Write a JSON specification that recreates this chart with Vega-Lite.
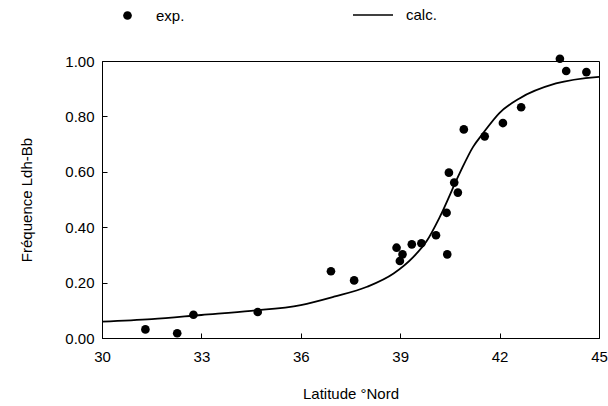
{
  "$schema": "https://vega.github.io/schema/vega-lite/v6.json",
  "width": 497,
  "height": 277,
  "autosize": {"type": "none"},
  "padding": {"left": 102, "top": 61, "right": 9, "bottom": 68},
  "background": "white",
  "config": {
    "font": "Liberation Sans",
    "view": {"stroke": "black", "strokeWidth": 1},
    "axis": {
      "domainColor": "black",
      "tickColor": "black",
      "labelColor": "black",
      "titleColor": "black",
      "labelFont": "Liberation Sans",
      "titleFont": "Liberation Sans",
      "labelFontSize": 15,
      "titleFontSize": 15,
      "titleFontWeight": "normal",
      "grid": false,
      "tickSize": -5,
      "labelFlush": false
    }
  },
  "datasets": {
    "exp": [
      {"lat": 31.31, "freq": 0.031, "type": "exp."},
      {"lat": 32.27, "freq": 0.017, "type": "exp."},
      {"lat": 32.76, "freq": 0.084, "type": "exp."},
      {"lat": 34.70, "freq": 0.094, "type": "exp."},
      {"lat": 36.91, "freq": 0.241, "type": "exp."},
      {"lat": 37.61, "freq": 0.208, "type": "exp."},
      {"lat": 38.89, "freq": 0.326, "type": "exp."},
      {"lat": 39.07, "freq": 0.302, "type": "exp."},
      {"lat": 38.99, "freq": 0.278, "type": "exp."},
      {"lat": 39.35, "freq": 0.338, "type": "exp."},
      {"lat": 39.64, "freq": 0.342, "type": "exp."},
      {"lat": 40.08, "freq": 0.371, "type": "exp."},
      {"lat": 40.40, "freq": 0.452, "type": "exp."},
      {"lat": 40.42, "freq": 0.302, "type": "exp."},
      {"lat": 40.47, "freq": 0.597, "type": "exp."},
      {"lat": 40.63, "freq": 0.561, "type": "exp."},
      {"lat": 40.74, "freq": 0.525, "type": "exp."},
      {"lat": 40.92, "freq": 0.753, "type": "exp."},
      {"lat": 41.55, "freq": 0.728, "type": "exp."},
      {"lat": 42.10, "freq": 0.776, "type": "exp."},
      {"lat": 42.65, "freq": 0.833, "type": "exp."},
      {"lat": 43.82, "freq": 1.008, "type": "exp."},
      {"lat": 44.01, "freq": 0.964, "type": "exp."},
      {"lat": 44.62, "freq": 0.960, "type": "exp."}
    ],
    "calc": [
      {"lat": 30.0, "freq": 0.059, "kind": "calc."},
      {"lat": 31.5, "freq": 0.068, "kind": "calc."},
      {"lat": 33.0, "freq": 0.083, "kind": "calc."},
      {"lat": 34.5, "freq": 0.098, "kind": "calc."},
      {"lat": 36.0, "freq": 0.119, "kind": "calc."},
      {"lat": 37.0, "freq": 0.149, "kind": "calc."},
      {"lat": 38.0, "freq": 0.185, "kind": "calc."},
      {"lat": 38.8, "freq": 0.233, "kind": "calc."},
      {"lat": 39.4, "freq": 0.293, "kind": "calc."},
      {"lat": 39.8, "freq": 0.350, "kind": "calc."},
      {"lat": 40.2, "freq": 0.438, "kind": "calc."},
      {"lat": 40.8, "freq": 0.596, "kind": "calc."},
      {"lat": 41.2, "freq": 0.690, "kind": "calc."},
      {"lat": 41.5, "freq": 0.739, "kind": "calc."},
      {"lat": 42.0, "freq": 0.813, "kind": "calc."},
      {"lat": 42.6, "freq": 0.865, "kind": "calc."},
      {"lat": 43.7, "freq": 0.919, "kind": "calc."},
      {"lat": 45.0, "freq": 0.943, "kind": "calc."}
    ]
  },
  "layer": [
    {
      "data": {"name": "calc"},
      "mark": {"type": "line", "strokeWidth": 1.8, "interpolate": "monotone"},
      "encoding": {
        "x": {
          "field": "lat", "type": "quantitative",
          "scale": {"domain": [30, 45], "nice": false, "zero": false},
          "axis": {"values": [30, 33, 36, 39, 42, 45], "title": "Latitude °Nord", "labelPadding": 16, "titlePadding": 22, "format": "d"}
        },
        "y": {
          "field": "freq", "type": "quantitative",
          "scale": {"domain": [0, 1], "nice": false, "zero": false},
          "axis": {"values": [0, 0.2, 0.4, 0.6, 0.8, 1.0], "format": ".2f", "title": "Fréquence Ldh-Bb", "labelPadding": 13, "titlePadding": 30}
        },
        "color": {
          "field": "kind", "type": "nominal",
          "scale": {"domain": ["calc."], "range": ["black"]},
          "legend": {
            "orient": "none", "legendX": 250, "legendY": -67, "title": null,
            "symbolType": "stroke", "symbolSize": 1600, "symbolStrokeWidth": 1.5,
            "labelFontSize": 15, "labelFont": "Liberation Sans", "labelColor": "black", "labelOffset": 12, "padding": 0
          }
        }
      }
    },
    {
      "data": {"name": "exp"},
      "mark": {"type": "point", "filled": true, "color": "black", "size": 75, "opacity": 1, "clip": false},
      "encoding": {
        "x": {"field": "lat", "type": "quantitative"},
        "y": {"field": "freq", "type": "quantitative"},
        "shape": {
          "field": "type", "type": "nominal",
          "scale": {"domain": ["exp."], "range": ["circle"]},
          "legend": {
            "orient": "none", "legendX": 18, "legendY": -53, "title": null,
            "symbolSize": 75, "symbolFillColor": "black", "symbolStrokeColor": "black", "symbolOpacity": 1,
            "labelFontSize": 15, "labelFont": "Liberation Sans", "labelColor": "black", "labelOffset": 21, "padding": 0
          }
        }
      }
    }
  ]
}
